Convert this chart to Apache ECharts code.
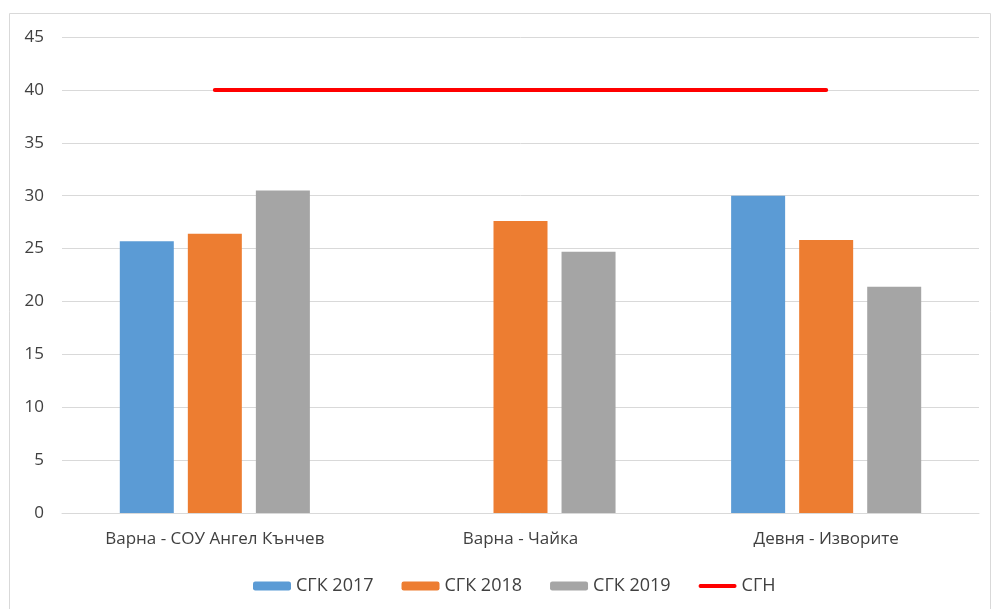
<!DOCTYPE html>
<html>
<head>
<meta charset="utf-8">
<script src="https://cdn.jsdelivr.net/npm/echarts@6/dist/echarts.min.js"></script>
<style>
  html, body { margin: 0; padding: 0; background: #fff; }
  #chart { width: 993px; height: 609px; }
</style>
</head>
<body>
<div id="chart"></div>
<script>
// категории и стойности
var categories = ['Варна - СОУ Ангел Кънчев', 'Варна - Чайка', 'Девня - Изворите'];
var sgk2017 = [25.7, null, 30.0];
var sgk2018 = [26.4, 27.6, 25.8];
var sgk2019 = [30.5, 24.7, 21.4];
var sgn = [40, 40, 40];

var chart = echarts.init(document.getElementById('chart'));
var font = 'Open Sans';

var option = {
    animation: false,
    textStyle: { fontFamily: font },
    // рамка на диаграмата
    graphic: [{
        type: 'rect',
        shape: { x: 9.5, y: 13.5, width: 981, height: 600 },
        style: { fill: 'none', stroke: '#d9d9d9', lineWidth: 1 },
        silent: true
    }],
    grid: { left: 62, right: 14, top: 37, bottom: 96 },
    legend: {
        top: 572,
        left: 248,
        itemWidth: 38,
        itemHeight: 9,
        itemGap: 28,
        textStyle: { fontSize: 18, color: '#404040', fontFamily: font },
        data: [
            'СГК 2017', 'СГК 2018', 'СГК 2019',
            { name: 'СГН', icon: 'path://M2,0 L38,0 A2,2 0 0 1 38,4 L2,4 A2,2 0 0 1 2,0 Z' }
        ]
    },
    xAxis: {
        type: 'category',
        data: categories,
        axisLine: { lineStyle: { color: '#d9d9d9', width: 1 } },
        axisTick: { show: false },
        axisLabel: { fontSize: 17, color: '#404040', margin: 18 }
    },
    yAxis: {
        type: 'value',
        min: 0,
        max: 45,
        interval: 5,
        axisLine: { show: false },
        axisTick: { show: false },
        axisLabel: { fontSize: 17, color: '#404040', margin: 18 },
        splitLine: { lineStyle: { color: '#d9d9d9', width: 1 } }
    },
    series: [
        { name: 'СГК 2017', type: 'bar', data: sgk2017, barWidth: 54, barGap: '26%', itemStyle: { color: '#5b9bd5' } },
        { name: 'СГК 2018', type: 'bar', data: sgk2018, barWidth: 54, barGap: '26%', itemStyle: { color: '#ed7d31' } },
        { name: 'СГК 2019', type: 'bar', data: sgk2019, barWidth: 54, barGap: '26%', itemStyle: { color: '#a5a5a5' } },
        {
            name: 'СГН', type: 'line', data: sgn,
            symbol: 'none',
            lineStyle: { color: '#ff0000', width: 4, cap: 'round' },
            itemStyle: { color: '#ff0000' }
        }
    ]
};

chart.setOption(option);
</script>
</body>
</html>
